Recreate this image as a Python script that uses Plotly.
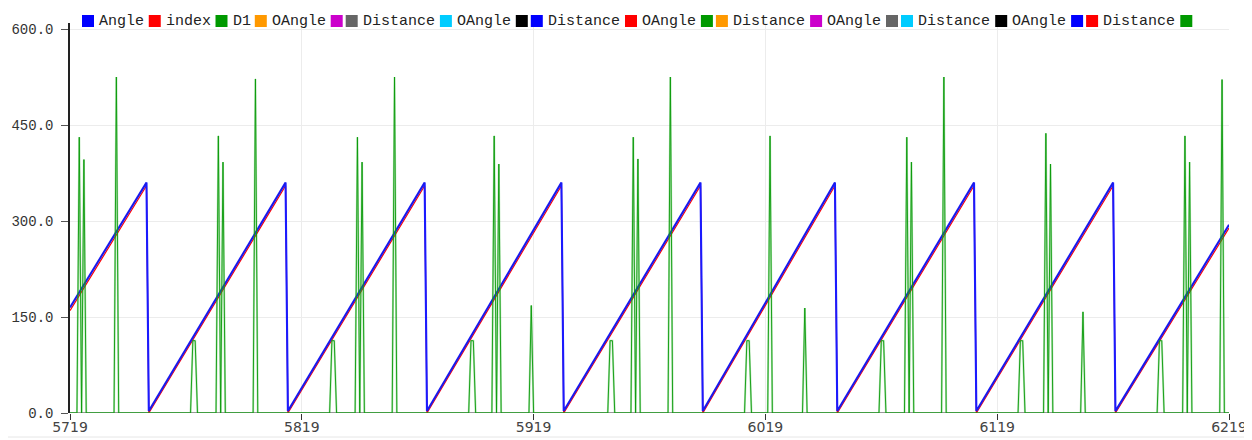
import plotly.graph_objects as go

# ---------------- data ----------------
x_start, x_end = 5719, 6219
x_ticks = [5719, 5819, 5919, 6019, 6119, 6219]
y_ticks = [0, 150, 300, 450, 600]

# Angle sawtooth: ramp end-points (sample index, value)
angle_idx = [5719, 5752, 5753, 5812, 5813, 5872, 5873, 5931, 5932,
             5991, 5992, 6049, 6050, 6109, 6110, 6169, 6170, 6219]
angle_val = [165, 360, 3, 360, 3, 360, 3, 360, 3,
             360, 3, 360, 3, 360, 3, 360, 3, 294]

# index series (red), sits just under the Angle line
index_val = [160, 355, 0, 355, 0, 355, 0, 355, 0,
             355, 0, 355, 0, 355, 0, 355, 0, 289]

# D1 spikes (sample index, value); all other samples are 0
d1_idx = [5723, 5725, 5739,
          5772, 5773, 5783, 5785, 5799,
          5832, 5833, 5843, 5845, 5859,
          5892, 5893, 5902, 5904, 5918,
          5952, 5953, 5962, 5964, 5978,
          6011, 6012, 6021, 6036,
          6069, 6070, 6080, 6082, 6096,
          6129, 6130, 6140, 6142, 6156,
          6189, 6190, 6200, 6202, 6216]
d1_val = [431, 396, 525,
          113, 113, 433, 392, 522,
          113, 113, 431, 392, 525,
          113, 113, 433, 389, 168,
          113, 113, 431, 397, 525,
          113, 113, 433, 164,
          113, 113, 431, 392, 525,
          113, 113, 437, 389, 158,
          113, 113, 433, 392, 521]

legend_labels = ["Angle", "index", "D1", "OAngle", "", "Distance", "OAngle", "",
                 "Distance", "OAngle", "", "Distance", "OAngle", "", "Distance",
                 "OAngle", "", "Distance", ""]
palette = ["#0000ff", "#ff0000", "#009900", "#ff9900", "#cc00cc",
           "#666666", "#00ccff", "#000000"]

# ---------------- build series ----------------
samples = list(range(x_start, x_end + 1))
spikes = dict(zip(d1_idx, d1_val))
d1_full = [spikes.get(s, 0) for s in samples]
zeros = [0 for _ in samples]

# dark overlay on rising ramps only
ov_x, ov_y = [], []
for i in range(len(angle_idx) - 1):
    if angle_val[i + 1] > angle_val[i]:
        ov_x += [angle_idx[i], angle_idx[i + 1], None]
        ov_y += [angle_val[i], angle_val[i + 1], None]

fig = go.Figure()
fig.add_trace(go.Scatter(x=samples, y=zeros, mode="lines",
                         line=dict(color="#333333", width=1.2),
                         hoverinfo="skip", showlegend=False))
fig.add_trace(go.Scatter(x=angle_idx, y=index_val, mode="lines",
                         line=dict(color="#ff0000", width=1.2),
                         hoverinfo="skip", showlegend=False))
fig.add_trace(go.Scatter(x=angle_idx, y=angle_val, mode="lines",
                         line=dict(color="#1a1aff", width=2.1),
                         hoverinfo="skip", showlegend=False))
fig.add_trace(go.Scatter(x=ov_x, y=ov_y, mode="lines",
                         line=dict(color="rgba(30,40,120,0.3)", width=0.9),
                         hoverinfo="skip", showlegend=False))
fig.add_trace(go.Scatter(x=samples, y=d1_full, mode="lines",
                         line=dict(color="rgba(40,180,40,0.35)", width=2),
                         hoverinfo="skip", showlegend=False))
fig.add_trace(go.Scatter(x=samples, y=d1_full, mode="lines",
                         line=dict(color="#0a9a0a", width=0.9),
                         hoverinfo="skip", showlegend=False))

# ---------------- layout ----------------
# The page body has an 8 px margin, so the figure is drawn 8 px in.
OFF = 8
W, H = 1252 - OFF, 440 - OFF
ML, MR, MT, MB = 70 - OFF, 23, 23 - OFF, 27
PW, PH = W - ML - MR, H - MT - MB


def pxx(px):  # reference pixel -> paper x
    return (px - OFF - ML) / PW


def pxy(py):  # reference pixel -> paper y
    return (H - MB - (py - OFF)) / PH


shapes, annotations = [], []
x = 82.0
for i, lab in enumerate(legend_labels):
    col = palette[i % len(palette)]
    shapes.append(dict(type="rect", xref="paper", yref="paper",
                       x0=pxx(x), x1=pxx(x + 12), y0=pxy(27), y1=pxy(15),
                       fillcolor=col, line=dict(width=0)))
    if lab:
        annotations.append(dict(text=lab, xref="paper", yref="paper",
                                x=pxx(x + 15), y=pxy(21), xanchor="left",
                                yanchor="middle", showarrow=False,
                                font=dict(family="Liberation Mono", size=15,
                                          color="#222222")))
        x += 21 + 9.15 * len(lab)
    else:
        x += 15

# faint line near the bottom edge
shapes.append(dict(type="line", xref="paper", yref="paper",
                   x0=pxx(OFF), x1=pxx(1252), y0=pxy(437), y1=pxy(437),
                   line=dict(color="#e6e6e6", width=1)))

fig.update_layout(
    width=W, height=H,
    margin=dict(l=ML, r=MR, t=MT, b=MB, pad=0, autoexpand=False),
    paper_bgcolor="white", plot_bgcolor="white",
    showlegend=False,
    shapes=shapes, annotations=annotations,
    xaxis=dict(range=[x_start, x_end], tickvals=x_ticks,
               ticktext=[str(v) for v in x_ticks], automargin=False,
               showgrid=True, gridcolor="#ececec", gridwidth=1,
               zeroline=False, showline=False,
               ticks="outside", ticklen=6, tickcolor="#333333",
               ticklabelstandoff=-5,
               tickfont=dict(family="DejaVu Sans", size=14, color="#444444")),
    yaxis=dict(range=[0, 609.4], tickvals=y_ticks, tickformat=".1f",
               automargin=False,
               showgrid=True, gridcolor="#ececec", gridwidth=1,
               zeroline=False, showline=True, linecolor="#222222",
               linewidth=1.5, ticks="outside", ticklen=7,
               tickcolor="#555555", ticklabelstandoff=5,
               tickfont=dict(family="Liberation Mono", size=14,
                             color="#333333")),
)

fig.write_html("out.html")
